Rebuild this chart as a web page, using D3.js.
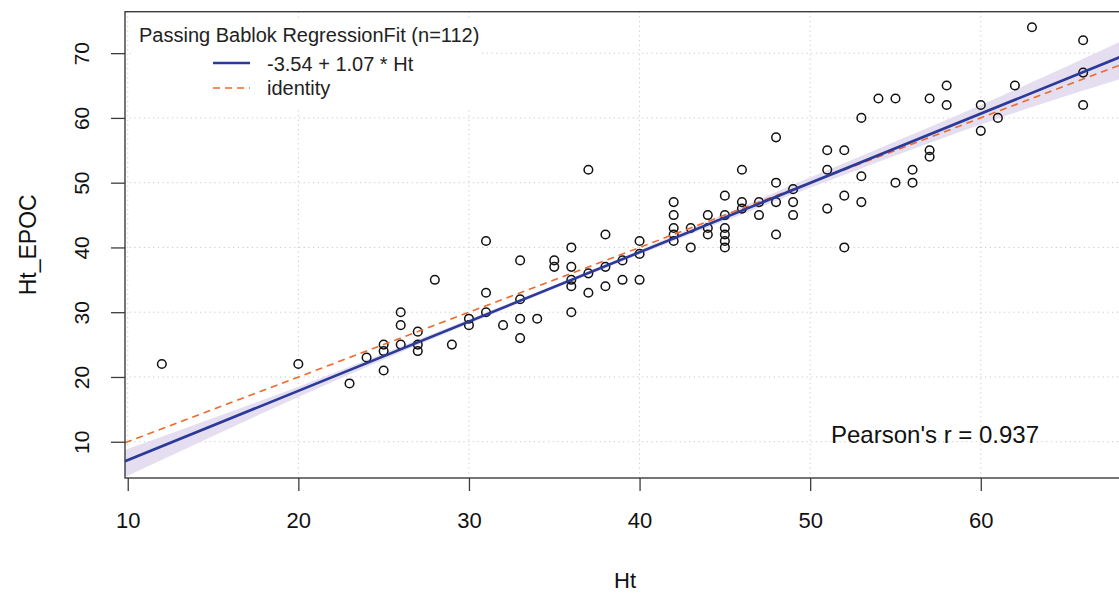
<!DOCTYPE html>
<html>
<head>
<meta charset="utf-8">
<script src="https://cdn.jsdelivr.net/npm/d3@7/dist/d3.min.js"></script>
<style>
  html, body { margin: 0; padding: 0; background: #fff; }
  svg { display: block; font-family: "Liberation Sans", Arial, sans-serif; }
</style>
</head>
<body>
<svg id="chart" width="1119" height="597"></svg>
<script>
// Method comparison: Ht (x) against Ht_EPOC (y)
const ht = [12, 20, 23, 24, 25, 25, 25, 26, 26, 26, 27, 27, 27, 28, 29, 30, 30,
  31, 31, 31, 32, 33, 33, 33, 33, 34, 35, 35, 36, 36, 36, 36, 36, 37, 37, 37,
  38, 38, 38, 39, 39, 40, 40, 40, 42, 42, 42, 42, 42, 43, 43, 44, 44, 44,
  45, 45, 45, 45, 45, 45, 46, 46, 46, 47, 47, 48, 48, 48, 48, 49, 49, 49,
  51, 51, 51, 52, 52, 52, 53, 53, 53, 54, 55, 55, 56, 56, 57, 57, 57,
  58, 58, 60, 60, 61, 62, 63, 66, 66, 66];
const htEpoc = [22, 22, 19, 23, 25, 24, 21, 30, 28, 25, 27, 25, 24, 35, 25, 29, 28,
  41, 33, 30, 28, 38, 32, 29, 26, 29, 38, 37, 40, 37, 35, 34, 30, 52, 36, 33,
  42, 37, 34, 38, 35, 41, 39, 35, 47, 45, 43, 42, 41, 43, 40, 45, 43, 42,
  48, 45, 43, 42, 41, 40, 52, 47, 46, 47, 45, 57, 50, 47, 42, 49, 47, 45,
  55, 52, 46, 55, 48, 40, 60, 51, 47, 63, 63, 50, 52, 50, 63, 55, 54,
  65, 62, 62, 58, 60, 65, 74, 72, 67, 62];

// Passing-Bablok fit and its confidence band
const intercept = -3.54;
const slope = 1.07;
const bandHt   = [9.8, 20, 30, 40, 50, 60, 68.2];
const bandLow  = [4.5, 16.9, 28.2, 38.9, 49.2, 59.0, 66.0];
const bandHigh = [8.7, 18.5, 28.9, 39.6, 50.8, 62.0, 71.8];

const xTicks = [10, 20, 30, 40, 50, 60];
const yTicks = [10, 20, 30, 40, 50, 60, 70];

const legendTitle = "Passing Bablok RegressionFit (n=112)";
const legendFit = "-3.54 + 1.07 * Ht";
const legendIdentity = "identity";
const pearsonLabel = "Pearson's r = 0.937";

const svg = d3.select("#chart");
const plot = { left: 125, right: 1120, top: 11.7, bottom: 478 };

const x = d3.scaleLinear().domain([9.84, 68.16]).range([plot.left, plot.right]);
const y = d3.scaleLinear().domain([4.4, 76.4]).range([plot.bottom, plot.top]);

const blue = "#2b3a99";
const orange = "#ee6a2a";

svg.append("defs").append("clipPath").attr("id", "clip")
  .append("rect")
  .attr("x", plot.left).attr("y", plot.top)
  .attr("width", plot.right - plot.left).attr("height", plot.bottom - plot.top);

// dotted grid
const grid = svg.append("g").attr("stroke", "#c8c8c8").attr("stroke-width", 1)
  .attr("stroke-dasharray", "1.2,3.5");
grid.selectAll("line.v").data(xTicks).join("line")
  .attr("x1", d => x(d)).attr("x2", d => x(d))
  .attr("y1", plot.top).attr("y2", plot.bottom);
grid.selectAll("line.h").data(yTicks).join("line")
  .attr("x1", plot.left).attr("x2", plot.right)
  .attr("y1", d => y(d)).attr("y2", d => y(d));

const inner = svg.append("g").attr("clip-path", "url(#clip)");

// confidence band
const bandData = bandHt.map((h, i) => ({ h, lo: bandLow[i], hi: bandHigh[i] }));
inner.append("path")
  .datum(bandData)
  .attr("fill", "#e4def0")
  .attr("d", d3.area().curve(d3.curveNatural)
    .x(d => x(d.h)).y0(d => y(d.lo)).y1(d => y(d.hi)));

// observations
inner.selectAll("circle").data(ht.map((h, i) => [h, htEpoc[i]])).join("circle")
  .attr("cx", d => x(d[0])).attr("cy", d => y(d[1]))
  .attr("r", 4.3)
  .attr("fill", "none").attr("stroke", "#111").attr("stroke-width", 1.5);

// identity line
const xd = x.domain();
inner.append("line")
  .attr("x1", x(xd[0])).attr("y1", y(xd[0]))
  .attr("x2", x(xd[1])).attr("y2", y(xd[1]))
  .attr("stroke", orange).attr("stroke-width", 1.6)
  .attr("stroke-dasharray", "7,5");

// regression line
inner.append("line")
  .attr("x1", x(xd[0])).attr("y1", y(intercept + slope * xd[0]))
  .attr("x2", x(xd[1])).attr("y2", y(intercept + slope * xd[1]))
  .attr("stroke", blue).attr("stroke-width", 2.6);

// frame
svg.append("rect")
  .attr("x", plot.left).attr("y", plot.top)
  .attr("width", plot.right - plot.left).attr("height", plot.bottom - plot.top)
  .attr("fill", "none").attr("stroke", "#3c3c3c").attr("stroke-width", 1.4);

// axes
const xAxis = d3.axisBottom(x).tickValues(xTicks).tickSize(13).tickPadding(21);
const gx = svg.append("g").attr("transform", `translate(0,${plot.bottom})`).call(xAxis);
gx.select(".domain").remove();
gx.selectAll(".tick line").attr("stroke", "#3c3c3c").attr("stroke-width", 1.3);
gx.selectAll(".tick text").attr("font-size", 22).attr("fill", "#111")
  .attr("font-family", "Liberation Sans, Arial, sans-serif");

const yAxis = d3.axisLeft(y).tickValues(yTicks).tickSize(14).tickPadding(0);
const gy = svg.append("g").attr("transform", `translate(${plot.left},0)`).call(yAxis);
gy.select(".domain").remove();
gy.selectAll(".tick line").attr("stroke", "#3c3c3c").attr("stroke-width", 1.3);
gy.selectAll(".tick text")
  .attr("font-size", 21).attr("fill", "#111")
  .attr("font-family", "Liberation Sans, Arial, sans-serif")
  .attr("text-anchor", "middle")
  .attr("dy", 0)
  .attr("transform", "translate(-36,0) rotate(-90)")
  .attr("x", 0).attr("y", 0);

// axis titles
svg.append("text")
  .attr("x", (plot.left + 1119) / 2 + 3).attr("y", 588)
  .attr("text-anchor", "middle").attr("font-size", 22).attr("fill", "#111")
  .text("Ht");
svg.append("text")
  .attr("transform", `translate(36,${(plot.top + plot.bottom) / 2}) rotate(-90)`)
  .attr("text-anchor", "middle").attr("font-size", 23).attr("fill", "#111")
  .text("Ht_EPOC");

// legend
const lg = svg.append("g");
lg.append("rect").attr("x", 133).attr("y", 19).attr("width", 347).attr("height", 88)
  .attr("fill", "#fff");
lg.append("text").attr("x", 139).attr("y", 42).attr("font-size", 20).attr("fill", "#222")
  .text(legendTitle);
lg.append("line").attr("x1", 213).attr("x2", 250).attr("y1", 63).attr("y2", 63)
  .attr("stroke", blue).attr("stroke-width", 2.6);
lg.append("text").attr("x", 267).attr("y", 70.5).attr("font-size", 20).attr("fill", "#222")
  .text(legendFit);
lg.append("line").attr("x1", 213).attr("x2", 250).attr("y1", 88).attr("y2", 88)
  .attr("stroke", orange).attr("stroke-width", 1.6).attr("stroke-dasharray", "7,5");
lg.append("text").attr("x", 267).attr("y", 95).attr("font-size", 20).attr("fill", "#222")
  .text(legendIdentity);

// correlation note
svg.append("text").attr("x", 831).attr("y", 443).attr("font-size", 24).attr("fill", "#111")
  .text(pearsonLabel);
</script>
</body>
</html>
